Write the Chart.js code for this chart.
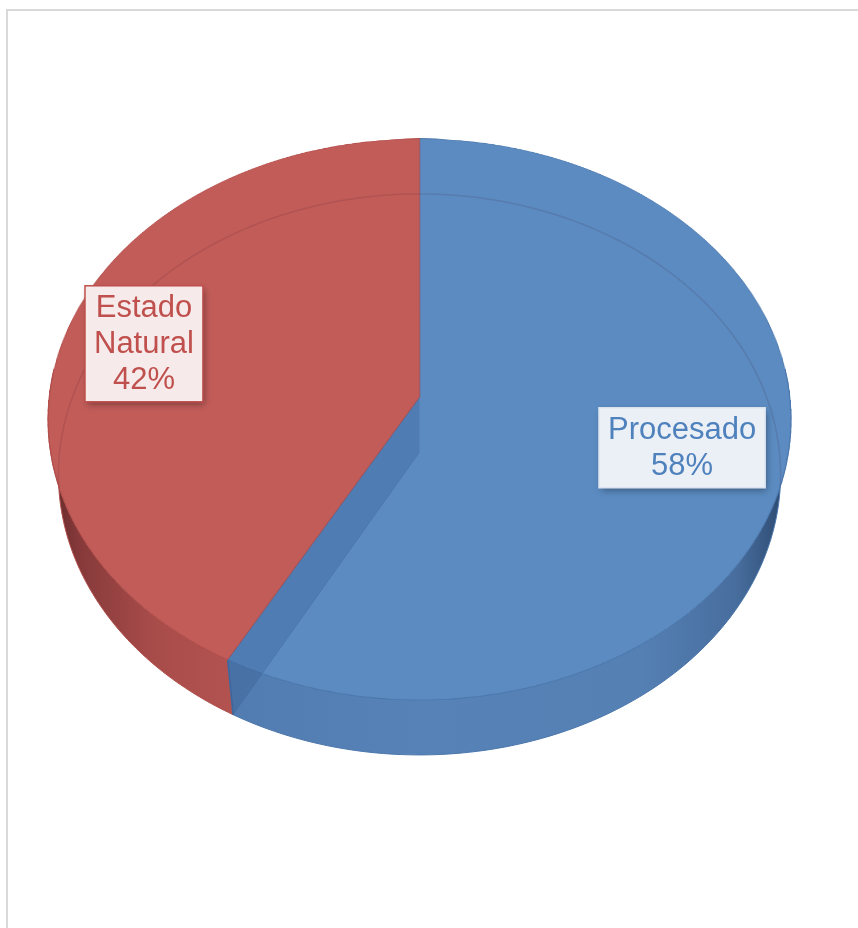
<!DOCTYPE html>
<html>
<head>
<meta charset="utf-8">
<script src="https://cdn.jsdelivr.net/npm/chart.js@4/dist/chart.umd.min.js"></script>
<style>
  body { margin: 0; background: #fff; }
  #frame { position: absolute; left: 6px; top: 9px; width: 900px; height: 1000px; border: 2px solid #d9d9d9; }
  #chart { position: absolute; left: 0; top: 0; }
</style>
</head>
<body>
<div id="frame"></div>
<canvas id="chart" width="858" height="928"></canvas>
<script>
// slices, in drawing order (clockwise from 12 o'clock)
var categories = ['Procesado', 'Estado Natural'];
var shares = [58, 42];
var sliceColors = ['#5b8bc1', '#c25c59'];
var edgeColors = ['#4a76ab', '#b04d4a'];
var labelColors = ['#4f81bd', '#c0504d'];
var labelFills = ['#ebf0f6', '#f6eaea'];
var labelBorders = ['#dbe4ef', '#c0504d'];

// perspective view of the disc: x = cx + a*u/(1-p*v), y = cy + b*v/(1-p*v)
// (u, v) = point on the unit disc, v > 0 towards the viewer
var view = { cx: 419.5, cy: 397, a: 370.3, b: 278.7, p: 0.08 };
var depth = 55;         // thickness of the disc
var baseScaleX = 0.972; // bottom rim a bit narrower

function project(u, v, bottom) {
    var d = 1 - view.p * v;
    var sx = bottom ? baseScaleX : 1;
    return { x: view.cx + sx * view.a * u / d, y: view.cy + (bottom ? depth : 0) + view.b * v / d };
}
function rimPoint(a, bottom) {
    return project(Math.cos(a), Math.sin(a), bottom);
}
// screen row -> v on the disc
function rowToV(y) {
    var t = y - view.cy;
    return t / (view.b + view.p * t);
}

function sideGradient(ctx, i) {
    var g = ctx.createLinearGradient(view.cx - view.a, 0, view.cx + view.a, 0);
    if (i === 0) {
        g.addColorStop(0, '#4d77ab');
        g.addColorStop(0.5, '#5782b7');
        g.addColorStop(0.8, '#5580b4');
        g.addColorStop(0.93, '#476d9d');
        g.addColorStop(1, '#2a466c');
    } else {
        g.addColorStop(0, '#62292a');
        g.addColorStop(0.04, '#86393a');
        g.addColorStop(0.14, '#a84c4a');
        g.addColorStop(0.3, '#b75653');
        g.addColorStop(1, '#b75653');
    }
    return g;
}

var disc3d = {
    id: 'disc3d',
    afterDatasetsDraw: function(chart) {
        var canvas = chart.canvas;
        var ctx = chart.ctx;
        var W = canvas.width, H = canvas.height;
        var arcs = chart.getDatasetMeta(0).data;
        var first = arcs[0];
        var R = first.outerRadius;

        // grab the flat pie the library just drew
        var flat = document.createElement('canvas');
        flat.width = W;
        flat.height = H;
        flat.getContext('2d').drawImage(canvas, 0, 0);

        ctx.save();
        ctx.setTransform(1, 0, 0, 1, 0, 0);
        ctx.clearRect(0, 0, W, H);

        // side walls, front half only
        arcs.forEach(function(arc, i) {
            var a1 = Math.max(arc.startAngle, -0.1);
            var a2 = Math.min(arc.endAngle, Math.PI + 0.1);
            if (a2 <= a1) return;
            var steps = 90, k, q;
            ctx.beginPath();
            for (k = 0; k <= steps; k++) {
                q = rimPoint(a1 + (a2 - a1) * k / steps, false);
                k === 0 ? ctx.moveTo(q.x, q.y) : ctx.lineTo(q.x, q.y);
            }
            for (k = steps; k >= 0; k--) {
                q = rimPoint(a1 + (a2 - a1) * k / steps, true);
                ctx.lineTo(q.x, q.y);
            }
            ctx.closePath();
            ctx.fillStyle = sideGradient(ctx, i);
            ctx.fill();
            ctx.strokeStyle = edgeColors[i];
            ctx.lineWidth = 1;
            ctx.stroke();
        });
        var t = rimPoint(first.endAngle, false), b = rimPoint(first.endAngle, true);
        ctx.beginPath();
        ctx.moveTo(t.x, t.y);
        ctx.lineTo(b.x, b.y);
        ctx.strokeStyle = '#3f6da5';
        ctx.lineWidth = 1.5;
        ctx.stroke();

        // top face: re-draw the flat pie row by row in perspective
        var yTop = Math.floor(view.cy - view.b / (1 + view.p));
        var yBot = Math.ceil(view.cy + view.b / (1 - view.p));
        for (var y = yTop; y < yBot; y++) {
            var v1 = Math.max(-1, rowToV(y)), v2 = Math.min(1, rowToV(y + 1));
            if (v2 <= v1) continue;
            var vm = (v1 + v2) / 2;
            var s = view.a / (R * (1 - view.p * vm));
            ctx.drawImage(flat, 0, first.y + v1 * R, W, (v2 - v1) * R,
                view.cx - first.x * s, y, W * s, 1);
        }

        // see-through top: the bottom rim and the cut wall show faintly
        ctx.save();
        ctx.beginPath();
        for (var k = 0; k <= 180; k++) {
            var q = rimPoint(k / 180 * Math.PI * 2, false);
            k === 0 ? ctx.moveTo(q.x, q.y) : ctx.lineTo(q.x, q.y);
        }
        ctx.clip();
        ctx.beginPath();
        for (k = 0; k <= 180; k++) {
            q = rimPoint(k / 180 * Math.PI * 2, true);
            k === 0 ? ctx.moveTo(q.x, q.y) : ctx.lineTo(q.x, q.y);
        }
        ctx.strokeStyle = 'rgba(60,20,40,0.13)';
        ctx.lineWidth = 1.5;
        ctx.stroke();
        ctx.restore();

        var c0 = project(0, 0, false), c1 = project(0, 0, true);
        ctx.beginPath();
        ctx.moveTo(c0.x, c0.y);
        ctx.lineTo(t.x, t.y);
        ctx.lineTo(b.x, b.y);
        ctx.lineTo(c1.x, c1.y);
        ctx.closePath();
        ctx.fillStyle = 'rgba(35,70,125,0.2)';
        ctx.fill();
        ctx.beginPath();
        ctx.moveTo(c1.x, c1.y);
        ctx.lineTo(b.x, b.y);
        ctx.strokeStyle = 'rgba(60,100,160,0.35)';
        ctx.lineWidth = 1;
        ctx.stroke();

        // data labels
        var total = shares.reduce(function(sum, val) { return sum + val; }, 0);
        ctx.font = '31px "Liberation Sans", Arial, sans-serif';
        ctx.textAlign = 'center';
        ctx.textBaseline = 'middle';
        arcs.forEach(function(arc, i) {
            var mid = (arc.startAngle + arc.endAngle) / 2;
            var anchor = project(Math.cos(mid) * 0.75, Math.sin(mid) * 0.75, false);
            var cx = anchor.x - 10.5, cy = anchor.y - 2;
            var lines = categories[i].split(' ');
            lines.push(Math.round(shares[i] / total * 100) + '%');
            var w = 0;
            lines.forEach(function(str) { w = Math.max(w, ctx.measureText(str).width); });
            var lh = 36;
            var bw = w + 18, bh = lines.length * lh + 8;
            var bx = cx - bw / 2, by = cy - bh / 2;
            ctx.save();
            ctx.shadowColor = 'rgba(0,0,0,0.35)';
            ctx.shadowBlur = 7;
            ctx.shadowOffsetX = 2;
            ctx.shadowOffsetY = 3;
            ctx.fillStyle = labelFills[i];
            ctx.fillRect(bx, by, bw, bh);
            ctx.restore();
            ctx.strokeStyle = labelBorders[i];
            ctx.lineWidth = 1.5;
            ctx.strokeRect(bx, by, bw, bh);
            ctx.fillStyle = labelColors[i];
            lines.forEach(function(str, j) {
                ctx.fillText(str, cx, by + 4 + lh * j + lh / 2 + 1);
            });
        });
        ctx.restore();
    }
};

var ctx = document.getElementById('chart').getContext('2d');
var chart = new Chart(ctx, {
    type: 'pie',
    data: {
        labels: categories,
        datasets: [{
            data: shares,
            backgroundColor: sliceColors,
            borderColor: edgeColors,
            borderWidth: 1
        }]
    },
    options: {
        responsive: false,
        animation: false,
        plugins: {
            legend: { display: false },
            tooltip: { enabled: false }
        }
    },
    plugins: [disc3d]
});
</script>
</body>
</html>
